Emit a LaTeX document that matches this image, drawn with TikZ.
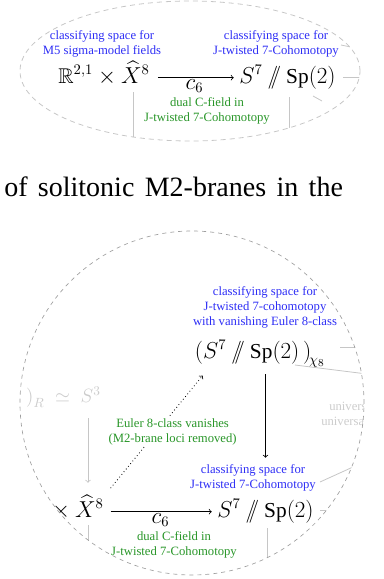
\documentclass[tikz,border=0pt]{standalone}
\usepackage{amssymb}
\usepackage{fontspec}
\setmainfont{Liberation Serif}
\usetikzlibrary{positioning}

\definecolor{infoblue}{RGB}{45,45,245}
\definecolor{fieldgreen}{RGB}{40,150,40}

\begin{document}
\begin{tikzpicture}[x=0.75pt, y=-0.75pt,
    info/.style={text=infoblue, font=\fontsize{9.5}{11.25}\selectfont, align=center, inner sep=1pt},
    field/.style={text=fieldgreen, font=\fontsize{9.5}{11.25}\selectfont, align=center, fill=white, inner sep=1pt},
    space/.style={font=\fontsize{16}{19}\selectfont, inner sep=2pt, anchor=base},
    faint/.style={gray!45, line width=0.6pt},
    map/.style={->, line width=0.6pt, shorten <=3pt, shorten >=2pt},
    maplabel/.style={below, inner sep=1pt, font=\fontsize{16}{19}\selectfont}]
        \useasboundingbox (0,0) rectangle (384,579);

        % Obere Lupe (M5 sigma-model)
        \begin{scope}
        \clip (190,71) ellipse [x radius=127.5pt, y radius=52.5pt];
        \node (Rtop) [space] at (104,83) {$\mathbb{R}^{2,1}\times\widehat{X}{}^8$};
        \node (Stop) [space] at (287.5,83) {$S^7 \mathbin{/\!\!/} \mathrm{Sp}(2)$};
        \node (RtopInfo) [info] at (102,44) {classifying space for\\M5 sigma-model fields};
        \node (StopInfo) [info] at (276,44) {classifying space for\\J-twisted 7-Cohomotopy};
        \draw [map, shorten <=4pt] ([yshift=4pt]Rtop.base east) -- node [maplabel] {$c_6$} ([yshift=4pt]Stop.base west);
        \node (ctop) [field] at (207,111) {dual C-field in\\J-twisted 7-Cohomotopy};
        % Reste der Verbindungen nach aussen
        \draw [faint] (133,92) -- (133,150);
        \draw [faint] (289,97) -- (289,150);
        \draw [faint] (343,77) -- (375,77);
        \draw [faint] (313,96) -- (322,101);
        \draw [faint] (341,45) -- (375,52);
        \end{scope}
        \draw [gray!45, line width=0.6pt, dash pattern=on 3.75pt off 3pt] (190,71) ellipse [x radius=127.5pt, y radius=52.5pt];

        % Fliesstext
        \node (caption) [anchor=base west, inner sep=0pt, font=\fontsize{21}{25}\selectfont] at (4,196) {\makebox[254pt][s]{of solitonic M2-branes in the}};

        % Untere Lupe (Euler-Klasse)
        \begin{scope}
        \clip (192,403) circle [radius=129pt];
        \node (Schi) [space, anchor=base west] at (192,358) {$\big(S^7 \mathbin{/\!\!/} \mathrm{Sp}(2)\,\big)_{\!\chi_8}$};
        \node (SchiInfo) [info] at (265,307) {classifying space for\\J-twisted 7-cohomotopy\\with vanishing Euler 8-class};
        \node (Rbot) [space] at (58,517) {$\mathbb{R}^{2,1}\times\widehat{X}{}^8$};
        \node (Sbot) [space] at (265.5,517) {$S^7 \mathbin{/\!\!/} \mathrm{Sp}(2)$};
        \node (SbotInfo) [info] at (253,478) {classifying space for\\J-twisted 7-Cohomotopy};
        \node (Sthree) [anchor=east, inner sep=0pt, text=gray!40, font=\fontsize{14}{17}\selectfont] at (101,397) {$\big)_R \;\simeq\; S^3$};
        \node (univ) [anchor=west, align=left, text=gray!40, font=\fontsize{9.5}{11.25}\selectfont, inner sep=0pt] at (321,414) {\hspace*{6pt}universal\\universal};
        \draw [map] ([yshift=4pt]Rbot.base east) -- node [maplabel] {$c_6$} ([yshift=4pt]Sbot.base west);
        \draw [map, shorten >=4pt] (Sbot.north |- Schi.south) -- (Sbot.north |- SbotInfo.north);
        \draw [->, dotted, line width=0.6pt] ([xshift=3pt, yshift=3pt]Rbot.north east) -- node [field, pos=0.5, xshift=12pt] {Euler 8-class vanishes\\(M2-brane loci removed)} ([xshift=8pt, yshift=-4pt]Schi.south west);
        \node (cbot) [field] at (174,545) {dual C-field in\\J-twisted 7-Cohomotopy};
        % Reste der Verbindungen nach aussen
        \draw [faint, ->] ([xshift=-9.75pt, yshift=-16pt]Sthree.east) -- ([xshift=-9.75pt, yshift=7pt]Sthree.east |- Rbot.north);
        \draw [faint] (88,525) -- (88,560);
        \draw [faint] (267,528) -- (267,570);
        \draw [faint] (295,365) -- (375,375);
        \draw [faint] (340,347) -- (375,347);
        \draw [faint] (320,482) -- (375,457);
        \draw [faint] (320,510) -- (345,510);
        \end{scope}
        \draw [gray!75, line width=0.5pt, dash pattern=on 3pt off 3pt] (192,403) circle [radius=129pt];
\end{tikzpicture}
\end{document}
